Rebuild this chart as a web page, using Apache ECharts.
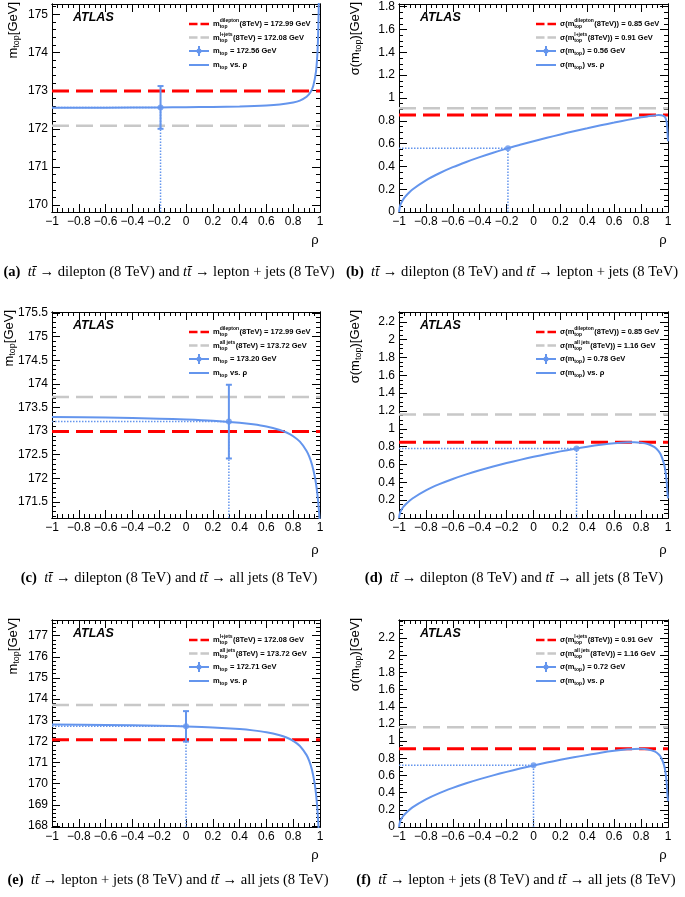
<!DOCTYPE html>
<html>
<head>
<meta charset="utf-8">
<script src="https://cdn.jsdelivr.net/npm/echarts@6.0.0/dist/echarts.min.js"></script>
<style>
  html, body { margin: 0; padding: 0; background: #fff; }
  #chart { width: 685px; height: 897px; }
</style>
</head>
<body>
<div id="chart"></div>
<script>
// ---------- data ----------
const rhoTicks = [-1, -0.8, -0.6, -0.4, -0.2, 0, 0.2, 0.4, 0.6, 0.8, 1];

// (a) dilepton + lepton+jets, combined mass vs rho
const aYTicks = [170, 171, 172, 173, 174, 175];
const aRef = [172.99, 172.08];          // dilepton, l+jets
const aComb = [-0.19, 172.56, 0.56];    // rho, value, error
const aRho = [-1, -0.6, -0.2, 0, 0.2, 0.4, 0.6, 0.7, 0.8, 0.85, 0.9, 0.93, 0.95, 0.97, 0.98, 0.985, 0.99, 0.992];
const aMass = [172.550, 172.554, 172.561, 172.566, 172.574, 172.587, 172.612, 172.638, 172.689, 172.739, 172.838, 172.964, 173.129, 173.496, 173.926, 174.33, 175.05, 175.54];

// (b) dilepton + lepton+jets, combined uncertainty vs rho
const bYTicks = [0, 0.2, 0.4, 0.6, 0.8, 1, 1.2, 1.4, 1.6, 1.8];
const bRef = [0.85, 0.91];
const bComb = [-0.19, 0.56];
const bRho = [-1, -0.99, -0.97, -0.95, -0.9, -0.8, -0.7, -0.6, -0.5, -0.4, -0.3, -0.2, -0.1, 0, 0.1, 0.2, 0.3, 0.4, 0.5, 0.6, 0.7, 0.8, 0.85, 0.9, 0.93, 0.95, 0.97, 0.98, 0.99, 0.995, 1];
const bSigma = [0, 0.062, 0.108, 0.139, 0.197, 0.278, 0.340, 0.393, 0.439, 0.481, 0.520, 0.556, 0.589, 0.621, 0.651, 0.680, 0.708, 0.734, 0.760, 0.784, 0.808, 0.830, 0.839, 0.847, 0.850, 0.849, 0.841, 0.828, 0.790, 0.726, 0.62];

// (c) dilepton + all jets, combined mass vs rho
const cYTicks = [171.5, 172, 172.5, 173, 173.5, 174, 174.5, 175, 175.5];
const cRef = [172.99, 173.72];
const cComb = [0.32, 173.20, 0.78];
const cRho = [-1, -0.6, -0.2, 0, 0.2, 0.4, 0.5, 0.6, 0.7, 0.75, 0.8, 0.85, 0.9, 0.92, 0.94, 0.96, 0.97, 0.98, 0.99, 1];
const cMass = [173.299, 173.285, 173.263, 173.245, 173.219, 173.177, 173.145, 173.098, 173.024, 172.969, 172.891, 172.775, 172.580, 172.459, 172.294, 172.055, 171.890, 171.677, 171.391, 170.988];

// (d) dilepton + all jets, combined uncertainty vs rho
const dYTicks = [0, 0.2, 0.4, 0.6, 0.8, 1, 1.2, 1.4, 1.6, 1.8, 2, 2.2];
const dRef = [0.85, 1.16];
const dComb = [0.32, 0.78];
const dRho = [-1, -0.99, -0.97, -0.95, -0.9, -0.8, -0.7, -0.6, -0.5, -0.4, -0.3, -0.2, -0.1, 0, 0.1, 0.2, 0.3, 0.4, 0.5, 0.6, 0.7, 0.75, 0.8, 0.85, 0.9, 0.93, 0.95, 0.97, 0.98, 0.99, 0.995, 1];
const dSigma = [0, 0.069, 0.120, 0.155, 0.219, 0.310, 0.379, 0.438, 0.489, 0.535, 0.577, 0.616, 0.652, 0.686, 0.717, 0.747, 0.774, 0.799, 0.821, 0.839, 0.849, 0.850, 0.845, 0.830, 0.794, 0.749, 0.698, 0.608, 0.533, 0.409, 0.303, 0.22];

// (e) lepton+jets + all jets, combined mass vs rho
const eYTicks = [168, 169, 170, 171, 172, 173, 174, 175, 176, 177];
const eRef = [172.08, 173.72];
const eComb = [0, 172.71, 0.72];
const eRho = [-1, -0.6, -0.2, 0, 0.2, 0.4, 0.5, 0.6, 0.7, 0.75, 0.8, 0.85, 0.9, 0.92, 0.94, 0.96, 0.97, 0.98, 0.99];
const eMass = [172.801, 172.777, 172.737, 172.705, 172.658, 172.581, 172.520, 172.432, 172.290, 172.181, 172.025, 171.781, 171.349, 171.066, 170.657, 170.012, 169.528, 168.848, 167.825];

// (f) lepton+jets + all jets, combined uncertainty vs rho
const fYTicks = [0, 0.2, 0.4, 0.6, 0.8, 1, 1.2, 1.4, 1.6, 1.8, 2, 2.2];
const fRef = [0.91, 1.16];
const fComb = [0, 0.72];
const fRho = [-1, -0.99, -0.97, -0.95, -0.9, -0.8, -0.7, -0.6, -0.5, -0.4, -0.3, -0.2, -0.1, 0, 0.1, 0.2, 0.3, 0.4, 0.5, 0.6, 0.7, 0.75, 0.8, 0.85, 0.9, 0.93, 0.95, 0.97, 0.98, 0.99, 0.995, 1];
const fSigma = [0, 0.072, 0.125, 0.161, 0.228, 0.322, 0.395, 0.455, 0.509, 0.557, 0.601, 0.642, 0.680, 0.716, 0.750, 0.782, 0.811, 0.839, 0.865, 0.887, 0.904, 0.909, 0.910, 0.903, 0.880, 0.846, 0.804, 0.723, 0.649, 0.515, 0.390, 0.30];

// ---------- layout ----------
const blue = '#6495ed';
const red = '#ff0000';
const grey = '#c8c8c8';

const panels = [
  { tag: '(a)', left: 52, top: 4, width: 268, height: 208, yMin: 169.82, yMax: 175.27, yTicks: aYTicks, yMinor: 0.2,
    rho: aRho, curve: aMass, ref: aRef, comb: aComb, sigma: false, names: ['dilepton', 'l+jets'], titleX: 13,
    cap: ['dilepton (8 TeV)', 'lepton + jets (8 TeV)'], capX: 169, capY: 272, rhoY: 240 },
  { tag: '(b)', left: 399, top: 4, width: 269, height: 208, yMin: 0, yMax: 1.824, yTicks: bYTicks, yMinor: 0.05,
    rho: bRho, curve: bSigma, ref: bRef, comb: bComb, sigma: true, names: ['dilepton', 'l+jets'], titleX: 355,
    cap: ['dilepton (8 TeV)', 'lepton + jets (8 TeV)'], capX: 512, capY: 272, rhoY: 240 },
  { tag: '(c)', left: 52, top: 312, width: 268, height: 206, yMin: 171.16, yMax: 175.52, yTicks: cYTicks, yMinor: 0.1,
    rho: cRho, curve: cMass, ref: cRef, comb: cComb, sigma: false, names: ['dilepton', 'all jets'], titleX: 9,
    cap: ['dilepton (8 TeV)', 'all jets (8 TeV)'], capX: 169, capY: 578, rhoY: 550 },
  { tag: '(d)', left: 399, top: 312, width: 269, height: 206, yMin: 0, yMax: 2.31, yTicks: dYTicks, yMinor: 0.05,
    rho: dRho, curve: dSigma, ref: dRef, comb: dComb, sigma: true, names: ['dilepton', 'all jets'], titleX: 355,
    cap: ['dilepton (8 TeV)', 'all jets (8 TeV)'], capX: 514, capY: 578, rhoY: 550 },
  { tag: '(e)', left: 52, top: 620, width: 268, height: 207, yMin: 167.95, yMax: 177.74, yTicks: eYTicks, yMinor: 0.2,
    rho: eRho, curve: eMass, ref: eRef, comb: eComb, sigma: false, names: ['l+jets', 'all jets'], titleX: 13,
    cap: ['lepton + jets (8 TeV)', 'all jets (8 TeV)'], capX: 168, capY: 880, rhoY: 855 },
  { tag: '(f)', left: 399, top: 620, width: 269, height: 207, yMin: 0, yMax: 2.41, yTicks: fYTicks, yMinor: 0.05,
    rho: fRho, curve: fSigma, ref: fRef, comb: fComb, sigma: true, names: ['l+jets', 'all jets'], titleX: 355,
    cap: ['lepton + jets (8 TeV)', 'all jets (8 TeV)'], capX: 516, capY: 880, rhoY: 855 }
];

const chart = echarts.init(document.getElementById('chart'));
const measure = document.createElement('canvas').getContext('2d');
function textWidth(str, font) {
  measure.font = font;
  return measure.measureText(str).width;
}

function fmt(v) {
  const s = String(+v.toFixed(2));
  return v < 0 ? '\u2212' + s.slice(1) : s;
}

function minorValues(min, max, step, majors) {
  const out = [];
  for (let k = Math.ceil(min / step - 1e-9); k * step <= max + 1e-9; k++) {
    const v = +(k * step).toFixed(6);
    if (!majors.some(m => Math.abs(m - v) < 1e-6)) out.push(v);
  }
  return out;
}

function axis(g, pos, min, max, ticks, len, labels) {
  const a = {
    type: 'value', gridIndex: g, position: pos, min: min, max: max,
    axisLine: { show: true, onZero: false, lineStyle: { color: '#000', width: 1 } },
    axisTick: { show: true, inside: true, length: len, customValues: ticks, lineStyle: { color: '#000', width: 1 } },
    axisLabel: { show: false },
    splitLine: { show: false },
    minorTick: { show: false }
  };
  if (labels) {
    a.axisLabel = {
      show: true, customValues: ticks, formatter: fmt, color: '#000',
      fontFamily: 'Liberation Sans', fontSize: 12, margin: 4
    };
  }
  return a;
}

const option = {
  animation: false,
  backgroundColor: '#fff',
  grid: [], xAxis: [], yAxis: [], series: [],
  graphic: { elements: [] }
};
const gfx = option.graphic.elements;

const legFont = 'bold 7.5px "Liberation Sans"';
const legSmall = 'bold 5px "Liberation Sans"';

function legendText(x, y, pre, sup, sub, post) {
  gfx.push({ type: 'text', x: x, y: y, style: { text: pre, font: legFont, fill: '#000', verticalAlign: 'middle' } });
  let w = textWidth(pre, legFont);
  if (sup) gfx.push({ type: 'text', x: x + w, y: y - 3, style: { text: sup, font: legSmall, fill: '#000', verticalAlign: 'middle' } });
  gfx.push({ type: 'text', x: x + w, y: y + 3, style: { text: sub, font: legSmall, fill: '#000', verticalAlign: 'middle' } });
  w += Math.max(textWidth(sup || '', legSmall), textWidth(sub, legSmall)) + 0.5;
  gfx.push({ type: 'text', x: x + w, y: y, style: { text: post, font: legFont, fill: '#000', verticalAlign: 'middle' } });
}

function legendLine(x0, x1, y, color, width, dash) {
  gfx.push({ type: 'line', shape: { x1: x0, y1: y, x2: x1, y2: y },
    style: { stroke: color, lineWidth: width, lineDash: dash || null } });
}

panels.forEach(function (p, g) {
  option.grid.push({ left: p.left, top: p.top, width: p.width, height: p.height, containLabel: false });
  const xi = option.xAxis.length, yi = option.yAxis.length;
  const xMinor = minorValues(-1, 1, 0.04, rhoTicks);
  const yMinor = minorValues(p.yMin, p.yMax, p.yMinor, p.yTicks);

  option.xAxis.push(axis(g, 'bottom', -1, 1, rhoTicks, 8, true));
  option.xAxis.push(axis(g, 'bottom', -1, 1, xMinor, 4, false));
  option.xAxis.push(axis(g, 'top', -1, 1, rhoTicks, 8, false));
  option.xAxis.push(axis(g, 'top', -1, 1, xMinor, 4, false));
  option.yAxis.push(axis(g, 'left', p.yMin, p.yMax, p.yTicks, 8, true));
  option.yAxis.push(axis(g, 'left', p.yMin, p.yMax, yMinor, 4, false));
  option.yAxis.push(axis(g, 'right', p.yMin, p.yMax, p.yTicks, 8, false));
  option.yAxis.push(axis(g, 'right', p.yMin, p.yMax, yMinor, 4, false));

  const base = { xAxisIndex: xi, yAxisIndex: yi, symbol: 'none', silent: true };
  option.series.push(Object.assign({}, base, {
    type: 'line', data: [[-1, p.ref[1]], [1, p.ref[1]]],
    lineStyle: { color: grey, width: 2.5, type: [17, 7] }, z: 2
  }));
  option.series.push(Object.assign({}, base, {
    type: 'line', data: [[-1, p.ref[0]], [1, p.ref[0]]],
    lineStyle: { color: red, width: 3, type: [17, 7] }, z: 3
  }));
  option.series.push(Object.assign({}, base, {
    type: 'line', data: p.rho.map((r, i) => [r, p.curve[i]]),
    smooth: 0.3,
    lineStyle: { color: blue, width: 2 }, z: 4
  }));
  const cx = p.comb[0], cy = p.comb[1];
  option.series.push(Object.assign({}, base, {
    type: 'line', data: [[-1, cy], [cx, cy]],
    lineStyle: { color: blue, width: 1.5, type: 'dotted' }, z: 4
  }));
  option.series.push(Object.assign({}, base, {
    type: 'line', data: [[cx, p.yMin], [cx, cy]],
    lineStyle: { color: blue, width: 1.5, type: 'dotted' }, z: 4
  }));
  if (!p.sigma) {
    option.series.push({
      type: 'custom', xAxisIndex: xi, yAxisIndex: yi, silent: true, z: 5,
      data: [[cx, cy - p.comb[2], cy + p.comb[2]]],
      renderItem: function (params, api) {
        const lo = api.coord([api.value(0), api.value(1)]);
        const hi = api.coord([api.value(0), api.value(2)]);
        const st = { stroke: blue, lineWidth: 2 };
        return { type: 'group', children: [
          { type: 'line', shape: { x1: lo[0], y1: lo[1], x2: hi[0], y2: hi[1] }, style: st },
          { type: 'line', shape: { x1: lo[0] - 3, y1: lo[1], x2: lo[0] + 3, y2: lo[1] }, style: st },
          { type: 'line', shape: { x1: hi[0] - 3, y1: hi[1], x2: hi[0] + 3, y2: hi[1] }, style: st }
        ] };
      }
    });
  }
  option.series.push({
    type: 'scatter', xAxisIndex: xi, yAxisIndex: yi, silent: true, z: 6,
    symbol: 'circle', symbolSize: 6, itemStyle: { color: blue },
    data: [[cx, cy]]
  });

  // ATLAS label
  gfx.push({ type: 'text', x: p.left + 21, y: p.top + 14,
    style: { text: 'ATLAS', font: 'italic bold 12.5px "Liberation Sans"', fill: '#000', verticalAlign: 'middle' } });

  // legend
  const lx0 = p.left + 137, lx1 = p.left + 157, tx = p.left + 161;
  const ly = [p.top + 20, p.top + 33.5, p.top + 47, p.top + 61];
  legendLine(lx0, lx1, ly[0], red, 2.5, [8.5, 3]);
  legendLine(lx0, lx1, ly[1], grey, 2.5, [8.5, 3]);
  legendLine(lx0, lx1, ly[2], blue, 2);
  gfx.push({ type: 'line', shape: { x1: (lx0 + lx1) / 2, y1: ly[2] - 5, x2: (lx0 + lx1) / 2, y2: ly[2] + 5 },
    style: { stroke: blue, lineWidth: 2 } });
  gfx.push({ type: 'circle', shape: { cx: (lx0 + lx1) / 2, cy: ly[2], r: 2.5 }, style: { fill: blue } });
  legendLine(lx0, lx1, ly[3], blue, 2);
  if (p.sigma) {
    legendText(tx, ly[0], '\u03c3(m', p.names[0], 'top', '(8TeV)) = ' + p.ref[0].toFixed(2) + ' GeV');
    legendText(tx, ly[1], '\u03c3(m', p.names[1], 'top', '(8TeV)) = ' + p.ref[1].toFixed(2) + ' GeV');
    legendText(tx, ly[2], '\u03c3(m', '', 'top', ') = ' + cy.toFixed(2) + ' GeV');
    legendText(tx, ly[3], '\u03c3(m', '', 'top', ') vs. \u03c1');
  } else {
    legendText(tx, ly[0], 'm', p.names[0], 'top', '(8TeV) = ' + p.ref[0].toFixed(2) + ' GeV');
    legendText(tx, ly[1], 'm', p.names[1], 'top', '(8TeV) = ' + p.ref[1].toFixed(2) + ' GeV');
    legendText(tx, ly[2], 'm', '', 'top', ' = ' + cy.toFixed(2) + ' GeV');
    legendText(tx, ly[3], 'm', '', 'top', ' vs. \u03c1');
  }

  // y axis title (rotated)
  gfx.push({ type: 'text', x: p.titleX, y: p.top - 2, rotation: Math.PI / 2,
    style: {
      text: p.sigma ? '{m|\u03c3(m}{s|top}{m|)[GeV]}' : '{m|m}{s|top}{m|[GeV]}',
      align: 'right', verticalAlign: 'middle', fill: '#000',
      rich: {
        m: { fontFamily: 'Liberation Sans', fontSize: 13, lineHeight: 16, fill: '#000' },
        s: { fontFamily: 'Liberation Sans', fontSize: 9, lineHeight: 9, verticalAlign: 'bottom', fill: '#000' }
      }
    } });

  // x axis title
  gfx.push({ type: 'text', x: p.left + p.width - 5, y: p.rhoY,
    style: { text: '\u03c1', font: '13px "Liberation Sans"', fill: '#000', align: 'center', verticalAlign: 'middle' } });

  // caption
  gfx.push({ type: 'text', x: p.capX, y: p.capY,
    style: {
      text: '{b|' + p.tag + '}  {i|tt\u0304} \u2192 ' + p.cap[0] + ' and {i|tt\u0304} \u2192 ' + p.cap[1],
      font: '14.6px "Liberation Serif"', fill: '#000', align: 'center', verticalAlign: 'middle',
      rich: {
        b: { fontFamily: 'Liberation Serif', fontSize: 14.6, fontWeight: 'bold', fill: '#000' },
        i: { fontFamily: 'Liberation Serif', fontSize: 14.6, fontStyle: 'italic', fill: '#000' }
      }
    } });
});

chart.setOption(option);
</script>
</body>
</html>
